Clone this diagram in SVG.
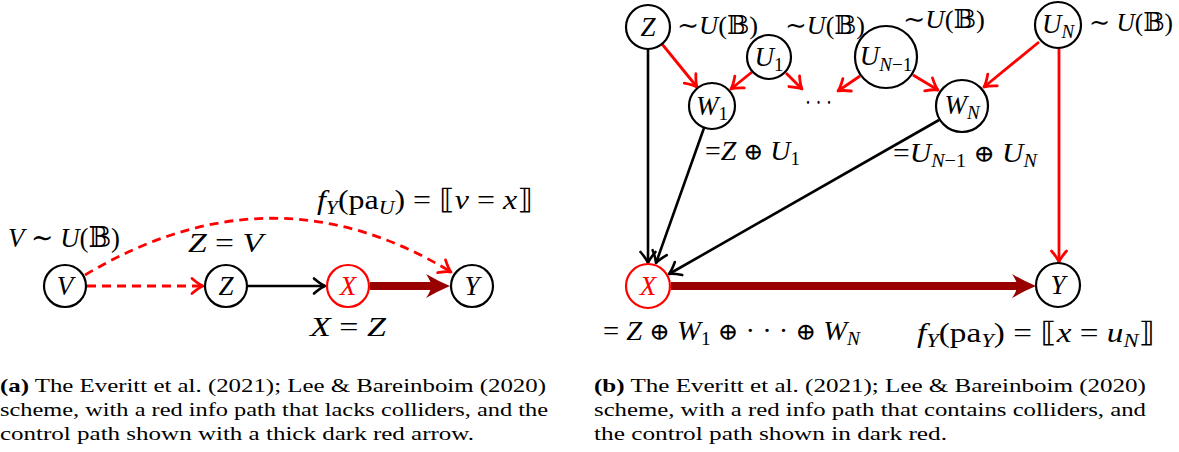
<svg xmlns="http://www.w3.org/2000/svg" width="1179" height="452" viewBox="0 0 1179 452">
<style>
.n{fill:#fff;stroke:#000;stroke-width:2.2}
.nr{fill:#fff;stroke:#f00;stroke-width:2.2}
.t{font-family:"Liberation Serif","DejaVu Serif","DejaVu Sans",serif;font-size:28px;fill:#000}
.l{font-size:27px}
.u{font-size:26px}
.i{font-style:italic}
.s{font-size:19px}
.o{font-family:"DejaVu Serif","DejaVu Sans",serif;font-size:24px}
.red{fill:#f00}
.c{font-family:"Liberation Serif",serif;font-size:19px;fill:#000}
.b{font-weight:bold}
.e{stroke:#000;stroke-width:2.6;fill:none;marker-end:url(#ak)}
.er{stroke:#f00;stroke-width:2.8;fill:none;marker-end:url(#ar)}
.d{stroke-dasharray:9 6}
.th{stroke:#990000;stroke-width:8;fill:none}
.ah{fill:#990000}
</style>
<defs>
<marker id="ak" markerUnits="userSpaceOnUse" viewBox="-14 -10 16 20" refX="0" refY="0" markerWidth="16" markerHeight="20" orient="auto" overflow="visible">
<path d="M-11,-7.5 Q-4,-1.5 0,0 Q-4,1.5 -11,7.5" fill="none" stroke="#000" stroke-width="2.6" stroke-linecap="round" stroke-linejoin="round"/>
</marker>
<marker id="ar" markerUnits="userSpaceOnUse" viewBox="-14 -10 16 20" refX="0" refY="0" markerWidth="16" markerHeight="20" orient="auto" overflow="visible">
<path d="M-11,-7.5 Q-4,-1.5 0,0 Q-4,1.5 -11,7.5" fill="none" stroke="#f00" stroke-width="2.8" stroke-linecap="round" stroke-linejoin="round"/>
</marker>
</defs>
<rect width="1179" height="452" fill="#fff"/>

<g id="connectors">
  <!-- left diagram -->
  <line class="er d" x1="87" y1="286" x2="203" y2="286"/>
  <path class="er d" d="M85,275 Q272,163 451,272"/>
  <line class="e" x1="248" y1="286" x2="325" y2="286"/>
  <line class="th" x1="370" y1="286" x2="432" y2="286"/>
  <path class="ah" d="M450,286 Q438,281 426,274 Q431,281 431,286 Q431,291 426,298 Q438,291 450,286 Z"/>
  <!-- right diagram -->
  <line class="e" x1="648" y1="49" x2="648" y2="263"/>
  <line class="e" x1="704" y1="128" x2="656" y2="263"/>
  <line class="e" x1="939" y1="120" x2="669" y2="274"/>
  <line class="er" x1="662" y1="44" x2="697" y2="87"/>
  <line class="er" x1="752" y1="72" x2="731" y2="89"/>
  <line class="er" x1="786" y1="73" x2="802" y2="89"/>
  <line class="er" x1="860" y1="76" x2="838" y2="91"/>
  <line class="er" x1="913" y1="75" x2="938" y2="90"/>
  <line class="er" x1="1039" y1="42" x2="984" y2="87"/>
  <line class="er" x1="1059" y1="48" x2="1059" y2="262"/>
  <line class="th" x1="671" y1="286" x2="1018" y2="286"/>
  <path class="ah" d="M1036,286 Q1024,281 1012,274 Q1017,281 1017,286 Q1017,291 1012,298 Q1024,291 1036,286 Z"/>
</g>

<!-- left diagram nodes -->
<g id="a-V">
  <circle class="n" cx="65" cy="286" r="21"/>
  <text class="t l i" x="65" y="295" text-anchor="middle">V</text>
  <text class="t" x="8" y="247" textLength="112" lengthAdjust="spacingAndGlyphs"><tspan class="i">V</tspan> ∼ <tspan class="i">U</tspan>(𝔹)</text>
</g>
<g id="a-Z">
  <circle class="n" cx="226" cy="286" r="21"/>
  <text class="t l i" x="226" y="295" text-anchor="middle">Z</text>
  <text class="t" x="188" y="252" textLength="75" lengthAdjust="spacingAndGlyphs"><tspan class="i">Z</tspan> = <tspan class="i">V</tspan></text>
</g>
<g id="a-X">
  <circle class="nr" cx="348" cy="286" r="21"/>
  <text class="t l i red" x="348" y="295" text-anchor="middle">X</text>
  <text class="t" x="310" y="336" textLength="76" lengthAdjust="spacingAndGlyphs"><tspan class="i">X</tspan> = <tspan class="i">Z</tspan></text>
</g>
<g id="a-Y">
  <circle class="n" cx="472" cy="286" r="21"/>
  <text class="t l i" x="472" y="295" text-anchor="middle">Y</text>
  <text class="t" x="317" y="209" textLength="216" lengthAdjust="spacingAndGlyphs"><tspan class="i">f</tspan><tspan class="i s" dy="5">Y</tspan><tspan dy="-5">(pa</tspan><tspan class="i s" dy="5">U</tspan><tspan dy="-5">) = ⟦</tspan><tspan class="i">v</tspan> = <tspan class="i">x</tspan>⟧</text>
</g>

<!-- right diagram nodes -->
<g id="b-Z">
  <circle class="n" cx="648" cy="27" r="22"/>
  <text class="t l i" x="648" y="36" text-anchor="middle">Z</text>
  <text class="t u" x="677" y="34" textLength="81" lengthAdjust="spacingAndGlyphs">∼<tspan class="i">U</tspan>(𝔹)</text>
</g>
<g id="b-U1">
  <circle class="n" cx="769" cy="57" r="22"/>
  <text class="t l" x="769" y="66" text-anchor="middle"><tspan class="i">U</tspan><tspan class="s" dy="5">1</tspan></text>
  <text class="t u" x="785" y="34" textLength="80" lengthAdjust="spacingAndGlyphs">∼<tspan class="i">U</tspan>(𝔹)</text>
</g>
<g id="b-UN1">
  <circle class="n" cx="886" cy="57" r="31"/>
  <text class="t l" x="886" y="65" text-anchor="middle"><tspan class="i">U</tspan><tspan class="s" dy="6"><tspan class="i">N</tspan>−1</tspan></text>
  <text class="t u" x="903" y="28" textLength="82" lengthAdjust="spacingAndGlyphs">∼<tspan class="i">U</tspan>(𝔹)</text>
</g>
<g id="b-UN">
  <circle class="n" cx="1058" cy="25" r="23"/>
  <text class="t l" x="1058" y="33" text-anchor="middle"><tspan class="i">U</tspan><tspan class="i s" dy="5">N</tspan></text>
  <text class="t u" x="1089" y="31" textLength="84" lengthAdjust="spacingAndGlyphs">∼ <tspan class="i">U</tspan>(𝔹)</text>
</g>
<g id="b-W1">
  <circle class="n" cx="712" cy="106" r="23"/>
  <text class="t l" x="712" y="115" text-anchor="middle"><tspan class="i">W</tspan><tspan class="s" dy="5">1</tspan></text>
  <text class="t" x="705" y="160" textLength="95" lengthAdjust="spacingAndGlyphs">=<tspan class="i">Z</tspan> <tspan class="o">⊕</tspan> <tspan class="i">U</tspan><tspan class="s" dy="5">1</tspan></text>
</g>
<g id="b-dots">
  <text class="t" x="805" y="112" textLength="27" lengthAdjust="spacingAndGlyphs">· · ·</text>
</g>
<g id="b-WN">
  <circle class="n" cx="962" cy="106" r="26"/>
  <text class="t l" x="962" y="114" text-anchor="middle"><tspan class="i">W</tspan><tspan class="i s" dy="5">N</tspan></text>
  <text class="t" x="893" y="162" textLength="144" lengthAdjust="spacingAndGlyphs">=<tspan class="i">U</tspan><tspan class="s" dy="5"><tspan class="i">N</tspan>−1</tspan><tspan dy="-5"> </tspan><tspan class="o">⊕</tspan> <tspan class="i">U</tspan><tspan class="i s" dy="5">N</tspan></text>
</g>
<g id="b-X">
  <circle class="nr" cx="648" cy="286" r="22"/>
  <text class="t l i red" x="648" y="295" text-anchor="middle">X</text>
  <text class="t" x="603" y="340" textLength="257" lengthAdjust="spacingAndGlyphs">= <tspan class="i">Z</tspan> <tspan class="o">⊕</tspan> <tspan class="i">W</tspan><tspan class="s" dy="5">1</tspan><tspan dy="-5"> </tspan><tspan class="o">⊕</tspan> · · · <tspan class="o">⊕</tspan> <tspan class="i">W</tspan><tspan class="i s" dy="5">N</tspan></text>
</g>
<g id="b-Y">
  <circle class="n" cx="1058" cy="285" r="22"/>
  <text class="t l i" x="1058" y="294" text-anchor="middle">Y</text>
  <text class="t" x="917" y="342" textLength="238" lengthAdjust="spacingAndGlyphs"><tspan class="i">f</tspan><tspan class="i s" dy="5">Y</tspan><tspan dy="-5">(pa</tspan><tspan class="i s" dy="5">Y</tspan><tspan dy="-5">) = ⟦</tspan><tspan class="i">x</tspan> = <tspan class="i">u</tspan><tspan class="i s" dy="5">N</tspan><tspan dy="-5">⟧</tspan></text>
</g>

<!-- captions -->
<g id="caption-a">
  <text class="c" x="0" y="392" textLength="546" lengthAdjust="spacingAndGlyphs"><tspan class="b">(a)</tspan> The Everitt et al. (2021); Lee &amp; Bareinboim (2020)</text>
  <text class="c" x="0" y="416" textLength="548" lengthAdjust="spacingAndGlyphs">scheme, with a red info path that lacks colliders, and the</text>
  <text class="c" x="0" y="439.5" textLength="474" lengthAdjust="spacingAndGlyphs">control path shown with a thick dark red arrow.</text>
</g>
<g id="caption-b">
  <text class="c" x="594" y="392" textLength="552" lengthAdjust="spacingAndGlyphs"><tspan class="b">(b)</tspan> The Everitt et al. (2021); Lee &amp; Bareinboim (2020)</text>
  <text class="c" x="594" y="416" textLength="552" lengthAdjust="spacingAndGlyphs">scheme, with a red info path that contains colliders, and</text>
  <text class="c" x="594" y="439.5" textLength="353" lengthAdjust="spacingAndGlyphs">the control path shown in dark red.</text>
</g>
</svg>
